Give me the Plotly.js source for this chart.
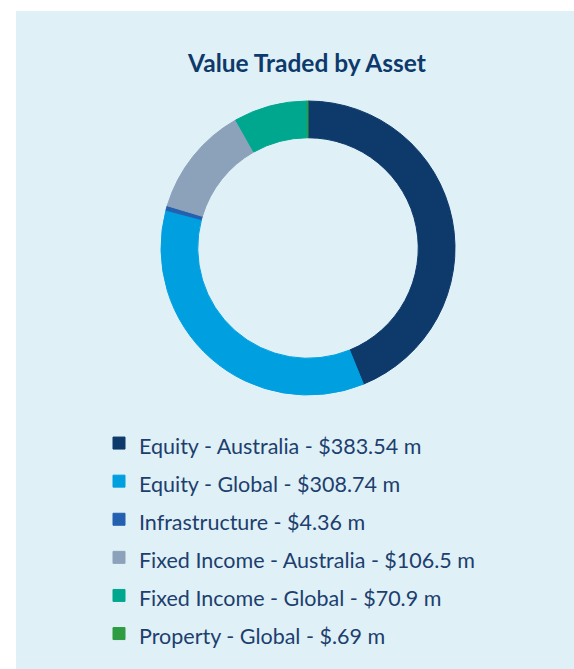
<!DOCTYPE html>
<html>
<head>
<meta charset="utf-8">
<script src="https://cdn.plot.ly/plotly-3.0.1.min.js"></script>
<style>
  html, body { margin: 0; padding: 0; background: #ffffff; }
  #chart { position: absolute; left: 16px; top: 11px; width: 558px; height: 658px; }
</style>
</head>
<body>
<div id="chart"></div>
<script>
// Data
const categories = ["Equity - Australia", "Equity - Global", "Infrastructure", "Fixed Income - Australia", "Fixed Income - Global", "Property - Global"];
const valueLabels = ["$383.54 m", "$308.74 m", "$4.36 m", "$106.5 m", "$70.9 m", "$.69 m"];
const values = [383.54, 308.74, 4.36, 106.5, 70.9, 0.69];
const colors = ["#0d3a6b", "#00a0e0", "#2460b0", "#8ca2ba", "#00a78f", "#2f9c42"];

const labels = categories.map((c, i) =>
  "<span style='font-size:21.5px'>" + c + " - " + valueLabels[i] + "</span>");

const W = 558, H = 658;
const cx = 292, cy = 237, R = 147;

const trace = {
  type: "pie",
  labels: labels,
  values: values,
  hole: 0.75,
  sort: false,
  direction: "clockwise",
  rotation: 0,
  textinfo: "none",
  hoverinfo: "label+value",
  marker: { colors: colors, line: { color: colors, width: 1 } },
  domain: { x: [(cx - R) / W, (cx + R) / W], y: [1 - (cy + R) / H, 1 - (cy - R) / H] }
};

const layout = {
  width: W,
  height: H,
  margin: { l: 0, r: 0, t: 0, b: 0 },
  paper_bgcolor: "#e0f0f7",
  plot_bgcolor: "#e0f0f7",
  font: { family: "Lato, sans-serif", color: "#1c3f6e" },
  title: {
    text: "<b>Value Traded by Asset</b>",
    font: { family: "Lato, sans-serif", size: 24.5, color: "#0d3a6b" },
    x: 291 / W, xanchor: "center",
    y: 1 - 52 / H, yanchor: "middle"
  },
  showlegend: true,
  legend: {
    x: 83 / W, xanchor: "left",
    y: 1 - 408 / H, yanchor: "top",
    orientation: "v",
    bgcolor: "rgba(0,0,0,0)",
    borderwidth: 0,
    font: { family: "Lato, sans-serif", size: 27, color: "#1c3f6e" }
  }
};

Plotly.newPlot("chart", [trace], layout, { displayModeBar: false, staticPlot: true });
</script>
</body>
</html>
